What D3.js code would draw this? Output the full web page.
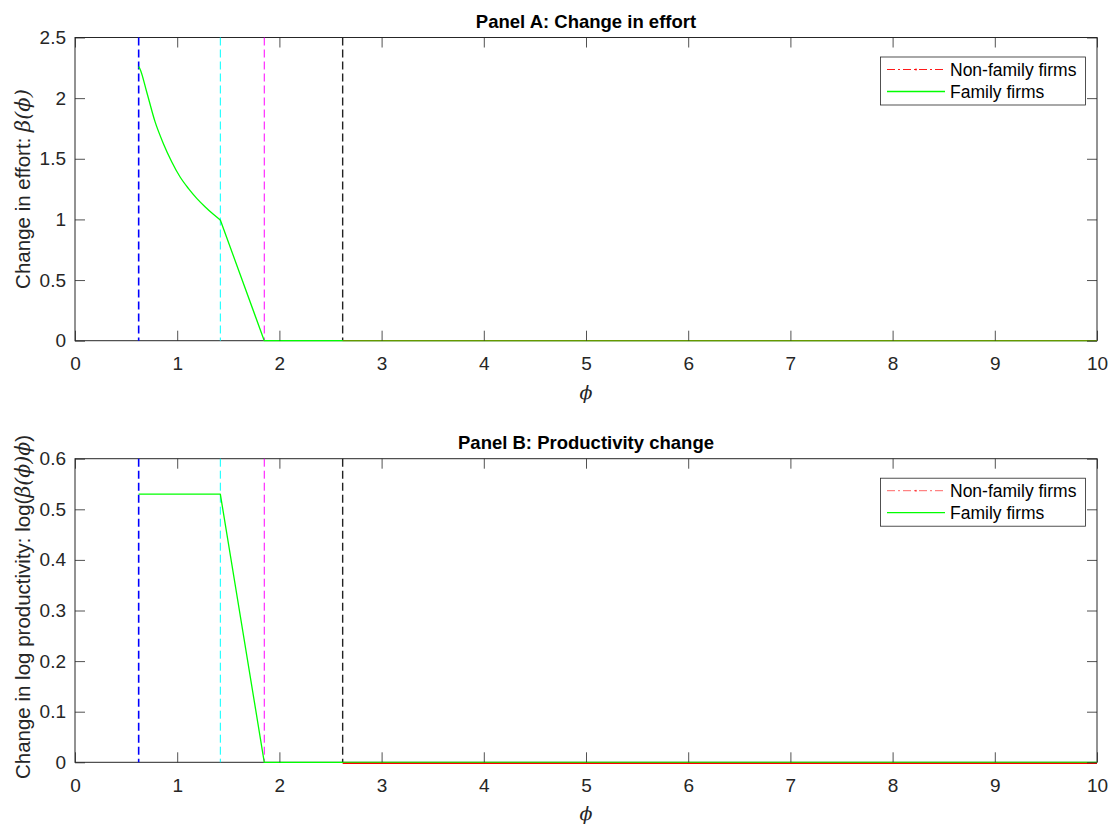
<!DOCTYPE html>
<html><head><meta charset="utf-8">
<script src="https://cdn.jsdelivr.net/npm/d3@7"></script>
<style>body{margin:0;background:#fff;} text{font-family:"Liberation Sans",Arial,sans-serif;}</style>
</head><body>
<svg id="c" width="1115" height="825"></svg>
<script>
// ---- data ----
const xTicks = [0,1,2,3,4,5,6,7,8,9,10];
const yTicksA = [0,0.5,1,1.5,2,2.5];
const yTicksB = [0,0.1,0.2,0.3,0.4,0.5,0.6];
const thresholds = [0.623, 1.422, 1.852, 2.619];
const thresholdColors = ["#0000ff","#00ffff","#ff00ff","#222222"];
const thresholdWidths = [1.6, 1, 1, 1.4];
// Panel A: family firms beta(phi) — curved part up to the kink
const famA_curve_x = [0.623, 0.636, 0.701, 0.783, 0.864, 0.946, 1.027, 1.109, 1.191, 1.272, 1.354, 1.422];
const famA_curve_y = [2.26, 2.24, 2.053, 1.806, 1.627, 1.476, 1.352, 1.256, 1.174, 1.105, 1.042, 0.995];
// Panel A: family firms — linear part after the kink
const famA_lin_x = [1.422, 1.852, 2.619, 10];
const famA_lin_y = [0.995, 0, 0, 0];
// Panel A: non-family firms
const nonA_x = [2.619, 10];
const nonA_y = [0, 0];
// Panel B: family firms log(beta(phi) phi)
const famB_x = [0.623, 1.422, 1.852, 2.619, 10];
const famB_y = [0.53, 0.53, 0, 0, 0];
// Panel B: non-family firms
const nonB_x = [2.619, 10];
const nonB_y = [-0.002, -0.002];
const legendLabels = ["Non-family firms","Family firms"];

const svg = d3.select("#c");
const axisCol = "#262626";
const x = d3.scaleLinear().domain([0,10]).range([75,1097]);

function panel(opts){
  const y = d3.scaleLinear().domain(opts.ydom).range([opts.bottom, opts.top]);
  const g = svg.append("g");
  const x0 = x.range()[0], x1 = x.range()[1];
  // box
  g.append("rect").attr("x",x0).attr("y",opts.top).attr("width",x1-x0).attr("height",opts.bottom-opts.top)
    .attr("fill","none").attr("stroke",axisCol).attr("stroke-width",1);
  // threshold lines
  thresholds.forEach((t,i)=>{
    g.append("line").attr("x1",x(t)).attr("x2",x(t)).attr("y1",opts.top).attr("y2",opts.bottom)
      .attr("stroke",thresholdColors[i]).attr("stroke-width",thresholdWidths[i]).attr("stroke-dasharray","8,4");
  });
  const line = d3.line().x(d=>x(d[0])).y(d=>y(d[1]));
  const smooth = d3.line().x(d=>x(d[0])).y(d=>y(d[1])).curve(d3.curveMonotoneX);
  // family
  opts.fam.forEach(seg=>{
    g.append("path").datum(seg.xs.map((v,i)=>[v,seg.ys[i]])).attr("d",seg.smooth?smooth:line)
      .attr("fill","none").attr("stroke","#00ff00").attr("stroke-width",1.3).attr("stroke-linejoin","round");
  });
  // non-family
  g.append("path").datum(opts.nx.map((v,i)=>[v,opts.ny[i]])).attr("d",line)
    .attr("fill","none").attr("stroke","#ff0000").attr("stroke-width",1.3).attr("stroke-opacity",opts.nfOpacity)
    .attr("stroke-dasharray",opts.nfDash);
  // axes
  const xb = d3.axisBottom(x).tickValues(xTicks).tickSize(-10).tickFormat(d3.format("d"));
  const gx = g.append("g").attr("transform",`translate(0,${opts.bottom})`).call(xb);
  const xt = d3.axisTop(x).tickValues(xTicks).tickSize(-10).tickFormat("");
  const gxt = g.append("g").attr("transform",`translate(0,${opts.top})`).call(xt);
  const yl = d3.axisLeft(y).tickValues(opts.yticks).tickSize(-10).tickPadding(8).tickFormat(d=>d3.format("")(+d.toFixed(2)));
  const gy = g.append("g").attr("transform",`translate(${x0},0)`).call(yl);
  const yr = d3.axisRight(y).tickValues(opts.yticks).tickSize(-10).tickFormat("");
  const gyr = g.append("g").attr("transform",`translate(${x1},0)`).call(yr);
  [gx,gxt,gy,gyr].forEach(a=>{
    a.select(".domain").remove();
    a.selectAll("line").attr("stroke",axisCol).attr("stroke-width",0.8);
    a.selectAll("text").attr("fill",axisCol).style("font-size","19px").style("font-family","Liberation Sans, Arial, sans-serif");
  });
  gy.selectAll("text").attr("x",-9);
  gx.selectAll("text").attr("dy","0.35em").attr("y",23);
  // title
  g.append("text").attr("x",(x0+x1)/2).attr("y",opts.top-9.5).attr("text-anchor","middle")
    .style("font-weight","bold").style("font-size","18.5px").attr("fill","#000").text(opts.title);
  // x label
  g.append("text").attr("x",(x0+x1)/2).attr("y",opts.bottom+58).attr("text-anchor","middle")
    .style("font-family","DejaVu Serif, serif").style("font-style","italic").style("font-size","19px").attr("fill",axisCol).text("ϕ");
  // y label
  const yt = g.append("text").attr("transform",`translate(30,${opts.ylabelCenter}) rotate(-90)`)
    .attr("text-anchor","middle").style("font-size","20.5px").attr("fill",axisCol);
  opts.ylabel(yt);
  // legend
  const lg = g.append("g");
  lg.append("rect").attr("x",880.5).attr("y",opts.top+19.5).attr("width",205).attr("height",48)
    .attr("fill","#fff").attr("stroke",axisCol).attr("stroke-width",0.8);
  const rows = [opts.top+32, opts.top+54];
  lg.append("line").attr("x1",887).attr("x2",945).attr("y1",rows[0]).attr("y2",rows[0])
    .attr("stroke","#ff0000").attr("stroke-opacity",opts.legOpacity).attr("stroke-dasharray","8,3,2,3");
  lg.append("circle").attr("cx",916).attr("cy",rows[0]).attr("r",1).attr("fill","#ff0000").attr("fill-opacity",opts.legOpacity);
  lg.append("line").attr("x1",887).attr("x2",945).attr("y1",rows[1]).attr("y2",rows[1])
    .attr("stroke","#00ff00").attr("stroke-width",1.3);
  legendLabels.forEach((l,i)=>{
    lg.append("text").attr("x",950).attr("y",rows[i]).attr("dy","0.35em").style("font-size","17.5px").attr("fill","#000").text(l);
  });
}

panel({top:37.5, bottom:340.7, ydom:[0,2.5], yticks:yTicksA, title:"Panel A: Change in effort",
  fam:[{xs:famA_curve_x, ys:famA_curve_y, smooth:true},{xs:famA_lin_x, ys:famA_lin_y, smooth:false}],
  nx:nonA_x, ny:nonA_y, nfOpacity:0.4, nfDash:null, legOpacity:0.9, ylabelCenter:189,
  ylabel: t=>{ t.append("tspan").text("Change in effort: ");
    t.append("tspan").style("font-family","DejaVu Serif, serif").style("font-style","italic").style("font-size","21px").text("β(ϕ)"); }});
panel({top:458.7, bottom:762.3, ydom:[0,0.6], yticks:yTicksB, title:"Panel B: Productivity change",
  fam:[{xs:famB_x, ys:famB_y, smooth:false}],
  nx:nonB_x, ny:nonB_y, nfOpacity:1, nfDash:null, legOpacity:0.6, ylabelCenter:607,
  ylabel: t=>{ t.append("tspan").text("Change in log productivity: log(");
    t.append("tspan").style("font-family","DejaVu Serif, serif").style("font-style","italic").text("β(ϕ)ϕ");
    t.append("tspan").text(")"); }});
</script>
</body></html>
